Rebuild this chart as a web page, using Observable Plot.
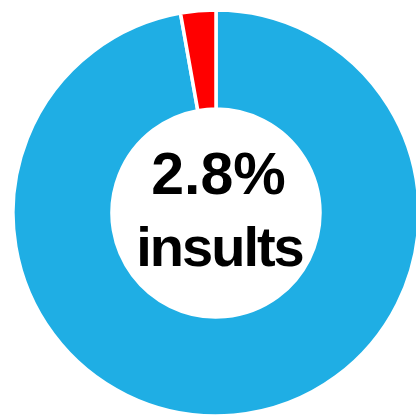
<!DOCTYPE html>
<html>
<head>
<meta charset="utf-8">
<script src="https://cdn.jsdelivr.net/npm/d3@7"></script>
<script src="https://cdn.jsdelivr.net/npm/@observablehq/plot@0.6"></script>
<style>
  html, body { margin: 0; padding: 0; background: #fff; }
</style>
</head>
<body>
<div id="chart"></div>
<script>
const categories = ["other", "insults"];
const values = [97.2, 2.8];
const colors = ["#1faee4", "#ff0000"];
const labelLines = ["2.8%", "insults"];

const data = categories.map((c, i) => ({category: c, value: values[i]}));

const W = 416, H = 415;
const cx = 216, cy = 213, outerR = 203, innerR = 104;

const pie = d3.pie().value(d => d.value).sort(null).startAngle(0).endAngle(2 * Math.PI);
const arc = d3.arc().innerRadius(innerR).outerRadius(outerR);
const color = d3.scaleOrdinal(categories, colors);

function donutMark() {
  const g = d3.create("svg:g").attr("transform", `translate(${cx},${cy})`);
  g.selectAll("path")
    .data(pie(data))
    .join("path")
    .attr("d", arc)
    .attr("fill", d => color(d.data.category))
    .attr("stroke", "#fff")
    .attr("stroke-width", 3.5)
    .attr("stroke-linejoin", "miter");
  return g.node();
}

const chart = Plot.plot({
  width: W,
  height: H,
  margin: 0,
  x: {axis: null},
  y: {axis: null},
  style: {background: "#fff"},
  marks: [
    donutMark,
    Plot.text([labelLines[0]], {
      text: d => d,
      frameAnchor: "middle",
      dx: 10,
      dy: -33,
      fontSize: 59,
      fontWeight: "bold",
      fontFamily: "Liberation Sans, Arial, sans-serif",
      fill: "#000",
      lineAnchor: "middle"
    }),
    Plot.text([labelLines[1]], {
      text: d => d,
      frameAnchor: "middle",
      dx: 11,
      dy: 40,
      fontSize: 56,
      fontWeight: "bold",
      fontFamily: "Liberation Sans, Arial, sans-serif",
      fill: "#000",
      lineAnchor: "middle"
    })
  ]
});
chart.querySelectorAll("text").forEach(t => { if (t.textContent === "insults") t.style.letterSpacing = "-2px"; });
document.getElementById("chart").appendChild(chart);
</script>
</body>
</html>
